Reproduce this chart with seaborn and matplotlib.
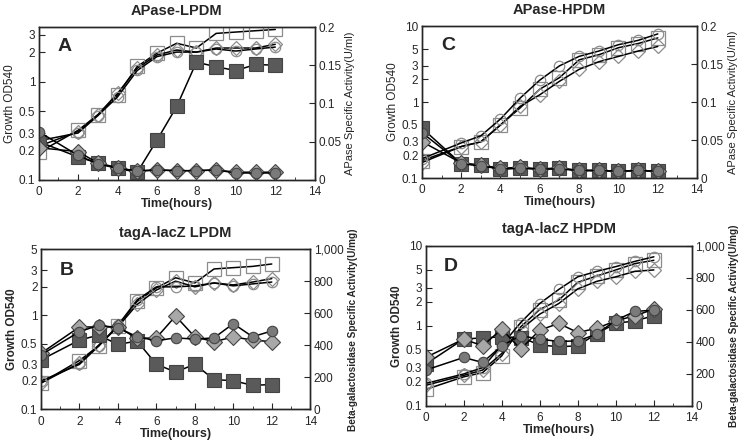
import matplotlib
matplotlib.use('Agg')
from matplotlib import pyplot as plt
from matplotlib.ticker import FixedLocator, NullLocator, NullFormatter
import seaborn as sns

sns.set_style('ticks')
plt.rcParams['font.family'] = ['Liberation Sans', 'DejaVu Sans']
plt.rcParams['font.size'] = 8.5
plt.rcParams['xtick.direction'] = 'in'
plt.rcParams['ytick.direction'] = 'in'
plt.rcParams['axes.linewidth'] = 1.0

hours = [0, 2, 3, 4, 5, 6, 7, 8, 9, 10, 11, 12]

# panel A  APase-LPDM
a_sq = [0.19, 0.32, 0.46, 0.73, 1.43, 1.95, 2.46, 2.2, 3.1, 3.2, 3.3, 3.4]
a_di = [0.22, 0.31, 0.46, 0.76, 1.37, 1.87, 2.1, 2.0, 2.2, 2.2, 2.2, 2.4]
a_ci = [0.25, 0.30, 0.45, 0.70, 1.30, 1.80, 2.0, 2.0, 2.15, 2.05, 2.15, 2.25]
a_act_sq = [0.050, 0.030, 0.022, 0.015, 0.010, 0.052, 0.096, 0.154, 0.148, 0.143, 0.151, 0.150]
a_act_di = [0.042, 0.037, 0.022, 0.016, 0.011, 0.013, 0.012, 0.012, 0.013, 0.010, 0.010, 0.010]
a_act_ci = [0.063, 0.032, 0.021, 0.015, 0.012, 0.013, 0.012, 0.012, 0.013, 0.009, 0.009, 0.009]

# panel C  APase-HPDM
c_sq = [0.17, 0.26, 0.30, 0.50, 0.84, 1.48, 2.1, 3.6, 4.2, 5.2, 5.9, 7.0]
c_di = [0.16, 0.26, 0.30, 0.50, 0.88, 1.25, 1.88, 2.7, 3.4, 4.0, 4.7, 5.4]
c_ci = [0.18, 0.29, 0.36, 0.60, 1.13, 1.95, 3.0, 4.0, 4.7, 5.7, 6.5, 7.9]
c_act_sq = [0.066, 0.019, 0.017, 0.012, 0.013, 0.012, 0.013, 0.010, 0.010, 0.009, 0.010, 0.009]
c_act_di = [0.048, 0.020, 0.017, 0.013, 0.014, 0.012, 0.013, 0.010, 0.010, 0.009, 0.010, 0.009]
c_act_ci = [0.060, 0.019, 0.016, 0.012, 0.013, 0.012, 0.012, 0.010, 0.010, 0.009, 0.010, 0.009]

# panel B  tagA-lacZ LPDM
b_sq = [0.19, 0.33, 0.47, 0.77, 1.40, 1.95, 2.5, 2.2, 3.1, 3.2, 3.3, 3.5]
b_di = [0.19, 0.31, 0.48, 0.75, 1.30, 1.85, 2.3, 2.0, 2.2, 2.1, 2.25, 2.45]
b_ci = [0.20, 0.30, 0.47, 0.78, 1.45, 2.0, 2.0, 2.05, 2.2, 2.05, 2.15, 2.25]
b_act_sq = [309, 433, 464, 406, 427, 282, 233, 282, 186, 179, 150, 155]
b_act_di = [350, 515, 515, 515, 443, 447, 583, 453, 423, 453, 433, 423]
b_act_ci = [340, 485, 526, 510, 454, 429, 447, 439, 447, 536, 454, 490]

# panel D  tagA-lacZ HPDM
d_sq = [0.16, 0.23, 0.26, 0.42, 0.97, 1.6, 2.1, 3.5, 4.2, 5.0, 6.0, 6.6]
d_di = [0.18, 0.24, 0.28, 0.45, 0.90, 1.4, 1.9, 2.9, 3.6, 4.1, 4.8, 5.0]
d_ci = [0.19, 0.25, 0.30, 0.57, 1.10, 1.9, 2.85, 4.1, 4.8, 5.5, 6.4, 7.3]
d_act_sq = [260, 417, 425, 431, 427, 381, 369, 375, 452, 515, 531, 563]
d_act_di = [302, 417, 375, 479, 354, 473, 515, 458, 485, 531, 563, 604]
d_act_ci = [223, 302, 271, 375, 438, 417, 402, 406, 448, 535, 590, 598]

panels = [
    {'title': 'APase-LPDM', 'tag': 'A', 'pos': [0.052, 0.594, 0.371, 0.345],
     'growth': [a_sq, a_di, a_ci], 'act': [a_act_sq, a_act_di, a_act_ci],
     'ylim': (0.1, 3.6), 'yticks': [0.1, 0.2, 0.3, 0.5, 1, 2, 3],
     'rlim': (0, 0.2), 'rticks': [0, 0.05, 0.1, 0.15, 0.2],
     'rlabels': ['0', '0.05', '0.1', '0.15', '0.2'],
     'rtitle': 'APase Specific Activity(U/ml)', 'weight': 'normal', 'rsize': 8},
    {'title': 'APase-HPDM', 'tag': 'C', 'pos': [0.567, 0.598, 0.370, 0.343],
     'growth': [c_sq, c_di, c_ci], 'act': [c_act_sq, c_act_di, c_act_ci],
     'ylim': (0.1, 10), 'yticks': [0.1, 0.2, 0.3, 0.5, 1, 2, 3, 5, 10],
     'rlim': (0, 0.2), 'rticks': [0, 0.05, 0.1, 0.15, 0.2],
     'rlabels': ['0', '0.05', '0.1', '0.15', '0.2'],
     'rtitle': 'APase Specific Activity(U/ml)', 'weight': 'normal', 'rsize': 8},
    {'title': 'tagA-lacZ LPDM', 'tag': 'B', 'pos': [0.055, 0.076, 0.362, 0.361],
     'growth': [b_sq, b_di, b_ci], 'act': [b_act_sq, b_act_di, b_act_ci],
     'ylim': (0.1, 5), 'yticks': [0.1, 0.2, 0.3, 0.5, 1, 2, 3, 5],
     'rlim': (0, 1000), 'rticks': [0, 200, 400, 600, 800, 1000],
     'rlabels': ['0', '200', '400', '600', '800', '1,000'],
     'rtitle': 'Beta-galactosidase Specific Activity(U/mg)', 'weight': 'bold', 'rsize': 7.2},
    {'title': 'tagA-lacZ HPDM', 'tag': 'D', 'pos': [0.572, 0.084, 0.358, 0.361],
     'growth': [d_sq, d_di, d_ci], 'act': [d_act_sq, d_act_di, d_act_ci],
     'ylim': (0.1, 10), 'yticks': [0.1, 0.2, 0.3, 0.5, 1, 2, 3, 5, 10],
     'rlim': (0, 1000), 'rticks': [0, 200, 400, 600, 800, 1000],
     'rlabels': ['0', '200', '400', '600', '800', '1,000'],
     'rtitle': 'Beta-galactosidase Specific Activity(U/mg)', 'weight': 'bold', 'rsize': 7.2},
]

open_style = [('s', 10), ('D', 7.5), ('o', 7.5)]
fill_style = [('s', 10.5, '#5a5a5a'), ('D', 8, '#a8a8a8'), ('o', 7.5, '#7a7a7a')]

fig = plt.figure(figsize=(7.44, 4.43), dpi=100)

for p in panels:
    ax = fig.add_axes(p['pos'])
    for vals, (m, ms) in zip(p['growth'], open_style):
        sns.lineplot(x=hours, y=vals, ax=ax, color='black', lw=1.1, marker=m, markersize=ms,
                     markerfacecolor='none', markeredgecolor='#8c8c8c', markeredgewidth=0.9)
    ax.set_yscale('log')
    ax.set_ylim(*p['ylim'])
    ax.yaxis.set_major_locator(FixedLocator(p['yticks']))
    ax.set_yticks(p['yticks'], [f'{v:g}' for v in p['yticks']])
    ax.yaxis.set_minor_locator(NullLocator())
    ax.yaxis.set_minor_formatter(NullFormatter())
    ax.set_xlim(0, 14)
    ax.set_xticks(range(0, 15, 2))
    ax.set_xticks(range(1, 14, 2), minor=True)
    ax.tick_params(axis='y', which='major', length=4, pad=2.5)
    ax.tick_params(axis='x', which='major', length=4, pad=4.5)
    ax.tick_params(which='minor', length=2)
    ax.set_xlabel('Time(hours)', fontweight='bold', fontsize=9, labelpad=0)
    ax.set_ylabel('Growth OD540', fontweight=p['weight'], fontsize=8.5, labelpad=2)
    ax.set_title(p['title'], fontweight='bold', fontsize=10.5, pad=9)
    ax.text(0.095, 0.87, p['tag'], transform=ax.transAxes, fontsize=14, fontweight='bold',
            va='center', ha='center')

    ax2 = ax.twinx()
    for vals, (m, ms, fc) in zip(p['act'], fill_style):
        sns.lineplot(x=hours, y=vals, ax=ax2, color='black', lw=1.1, marker=m, markersize=ms,
                     markerfacecolor=fc, markeredgecolor='#444444', markeredgewidth=0.8)
    ax2.set_ylim(*p['rlim'])
    ax2.set_yticks(p['rticks'], p['rlabels'])
    ax2.tick_params(length=4, pad=2.5)
    ax2.set_ylabel(p['rtitle'], fontweight=p['weight'], fontsize=p['rsize'], labelpad=3)
    for sp in ax2.spines.values():
        sp.set_linewidth(1.0)

plt.savefig('out.png', dpi=100)
